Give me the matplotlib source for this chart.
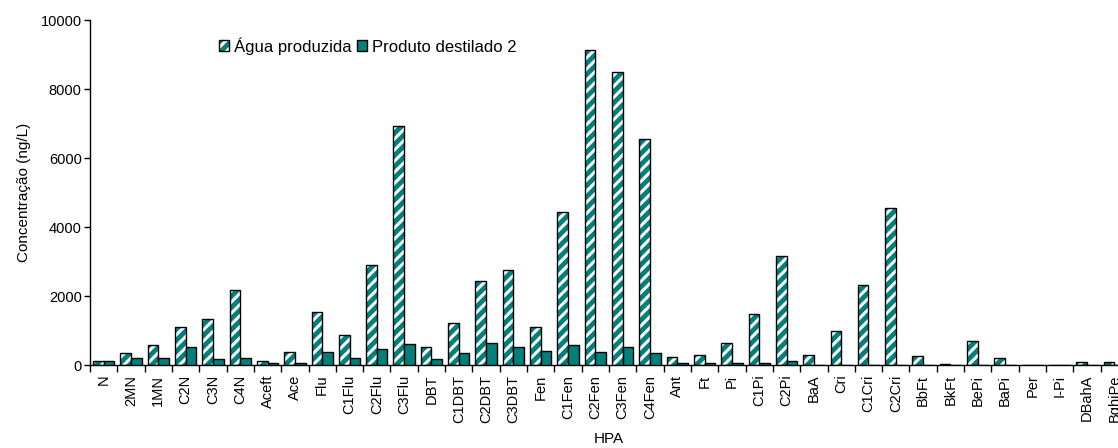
import numpy as np
import matplotlib
matplotlib.use("Agg")
import matplotlib.pyplot as plt
from matplotlib.patches import Patch

plt.rcParams["font.family"] = ["Liberation Sans", "DejaVu Sans"]
plt.rcParams["hatch.linewidth"] = 2.2

# PAH compounds and concentrations (ng/L)
compostos = [
    "N", "2MN", "1MN", "C2N", "C3N", "C4N", "Aceft", "Ace", "Flu", "C1Flu",
    "C2Flu", "C3Flu", "DBT", "C1DBT", "C2DBT", "C3DBT", "Fen", "C1Fen", "C2Fen",
    "C3Fen", "C4Fen", "Ant", "Ft", "Pi", "C1Pi", "C2Pi", "BaA", "Cri", "C1Cri",
    "C2Cri", "BbFt", "BkFt", "BePi", "BaPi", "Per", "I-Pi", "DBahA", "BghiPe",
]
agua_produzida = [
    130, 340, 590, 1110, 1330, 2175, 105, 365, 1545, 880,
    2900, 6940, 530, 1210, 2445, 2755, 1110, 4445, 9130,
    8500, 6540, 230, 300, 640, 1480, 3170, 300, 995, 2320,
    4540, 260, 40, 695, 195, 0, 0, 95, 95,
]
produto_destilado = [
    130, 200, 200, 510, 165, 200, 70, 70, 365, 200,
    475, 610, 165, 340, 640, 530, 405, 570, 365,
    510, 340, 70, 70, 70, 70, 105, 0, 0, 0,
    0, 0, 0, 0, 0, 0, 0, 0, 0,
]

TEAL = "#00807a"

fig = plt.figure(figsize=(11.18, 4.48), dpi=100)
# axis runs slightly past the right edge of the figure
ax = fig.add_axes([90 / 1118, 83 / 448, 1038 / 1118, 345 / 448])

x = np.arange(len(compostos))
w = 0.39

# hatched bars: teal face with white stripes, then a black outline on top
ax.bar(x - w / 2, agua_produzida, w, color=TEAL, edgecolor="white",
       hatch="///", linewidth=0, zorder=2)
ax.bar(x - w / 2, agua_produzida, w, facecolor="none", edgecolor="black",
       linewidth=1.0, zorder=3)
ax.bar(x + w / 2, produto_destilado, w, color=TEAL, edgecolor="black",
       linewidth=1.0, zorder=3)

ax.set_xlim(-0.5, len(compostos) - 0.5)
ax.set_ylim(0, 10000)
ax.set_yticks(np.arange(0, 10001, 2000))

# tick marks between groups, labels at group centres
ax.set_xticks(np.arange(len(compostos) + 1) - 0.5)
ax.set_xticklabels([])
ax.set_xticks(x, minor=True)
ax.set_xticklabels(compostos, minor=True, rotation=90, fontsize=10.5)
ax.tick_params(axis="x", which="major", direction="out", length=5, width=1)
ax.tick_params(axis="x", which="minor", length=0, pad=7)
ax.tick_params(axis="y", direction="out", length=4, width=1, labelsize=10.5, pad=2)

for s in ["top", "right"]:
    ax.spines[s].set_visible(False)
for s in ["left", "bottom"]:
    ax.spines[s].set_linewidth(1.0)

ax.set_ylabel("Concentração (ng/L)", fontsize=11, labelpad=7)
ax.set_xlabel("HPA", fontsize=11, labelpad=7)

h_agua = (Patch(facecolor=TEAL, edgecolor="white", hatch="///", linewidth=0),
          Patch(facecolor="none", edgecolor="black", linewidth=1.0))
h_dest = Patch(facecolor=TEAL, edgecolor="black", linewidth=1.0)
ax.legend([h_agua, h_dest], ["Água produzida", "Produto destilado 2"],
          ncol=2, frameon=False, fontsize=12, loc="upper left",
          bbox_to_anchor=(0.118, 0.97), handlelength=0.6, handleheight=0.6,
          handletextpad=0.3, columnspacing=0.3, borderaxespad=0)

fig.savefig("out.png", dpi=100)
